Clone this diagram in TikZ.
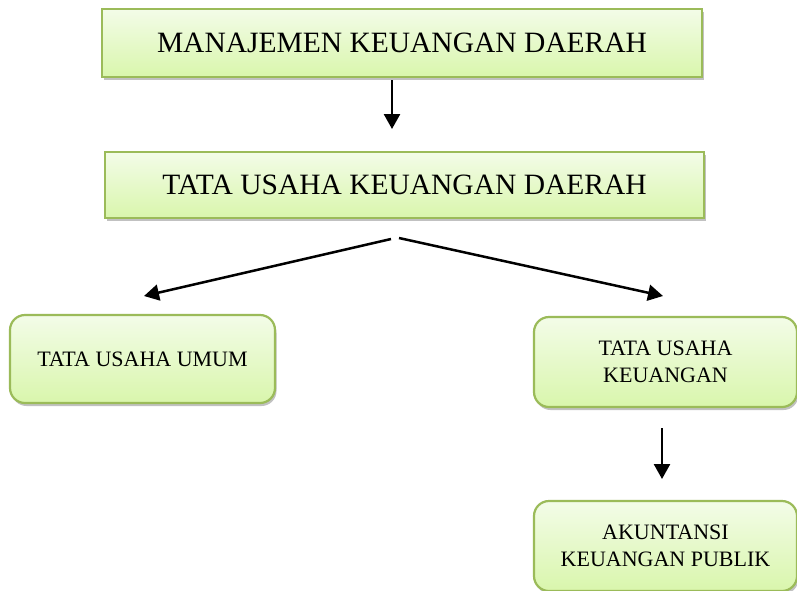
\documentclass[tikz,border=0pt]{standalone}
\usepackage{fontspec}
\setmainfont{Liberation Serif}
\usetikzlibrary{arrows.meta,shadows}
\definecolor{boxline}{HTML}{9BBB59}
\definecolor{boxtop}{HTML}{F3FCE8}
\definecolor{boxbot}{HTML}{D9F6AC}
\tikzset{
  bigbox/.style={draw=boxline, line width=2.2pt, top color=boxtop, bottom color=boxbot,
    drop shadow={shadow xshift=1.5pt, shadow yshift=-3pt, opacity=0.35, fill=black!70},
    inner sep=0pt, align=center, font=\fontsize{29.5}{34}\selectfont},
  smallbox/.style={bigbox, rounded corners=15pt, font=\fontsize{22}{27}\selectfont},
  arr/.style={line width=2.5pt, -{Triangle[length=15pt,width=16pt]}}
}
\begin{document}
\begin{tikzpicture}[x=1pt,y=-1pt]
\useasboundingbox (0,0) rectangle (797,590);
\node[bigbox, minimum width=600pt, minimum height=68pt] (m1) at (402,43) {MANAJEMEN KEUANGAN DAERAH};
\node[bigbox, minimum width=599pt, minimum height=66pt] (m2) at (404.5,185) {TATA USAHA KEUANGAN DAERAH};
\node[smallbox, minimum width=265pt, minimum height=88pt] (u) at (142.5,359) {TATA USAHA UMUM};
\node[smallbox, minimum width=263pt, minimum height=90pt] (k) at (665.5,362) {\raisebox{-3pt}{\parbox{250pt}{\centering TATA USAHA\\KEUANGAN}}};
\node[smallbox, minimum width=263pt, minimum height=90pt] (a) at (665.5,546) {\raisebox{-3pt}{\parbox{250pt}{\centering AKUNTANSI\\KEUANGAN PUBLIK}}};
\coordinate (a1s) at (392,80);
\coordinate (a1e) at (392,129);
\coordinate (lS) at (391,239);
\coordinate (lE) at (144,296);
\coordinate (rS) at (399,238);
\coordinate (rE) at (663,296);
\coordinate (a3s) at (662,428);
\coordinate (a3e) at (662,479);
\draw[arr] (a1s) -- (a1e);
\draw[arr] (lS) -- (lE);
\draw[arr] (rS) -- (rE);
\draw[arr] (a3s) -- (a3e);
\end{tikzpicture}
\end{document}
